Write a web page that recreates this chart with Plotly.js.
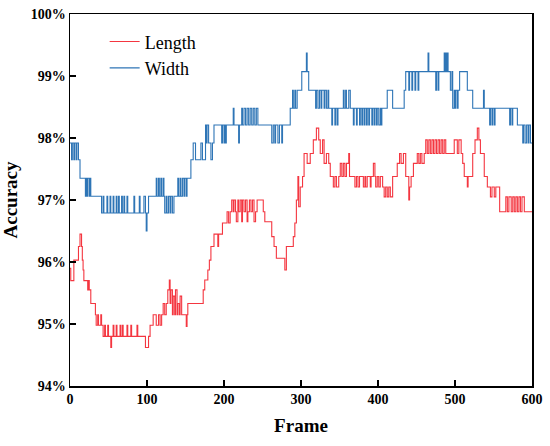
<!DOCTYPE html>
<html>
<head>
<meta charset="utf-8">
<script src="https://cdn.plot.ly/plotly-3.0.1.min.js"></script>
<style>html,body{margin:0;padding:0;background:#fff;}#chart{width:550px;height:446px;}</style>
</head>
<body>
<div id="chart"></div>
<script>
// Width series: frame at which a step starts, and its accuracy (%)
var widthFrames = [0,2,3,5,6,8,9,11,13,20,21,22,23,25,26,27,41,43,44,48,49,52,53,56,57,60,61,63,64,67,68,70,71,74,75,83,84,90,91,96,98,99,100,102,
  112,113,115,116,118,119,121,122,123,125,126,128,130,131,133,135,140,141,143,144,146,148,149,151,152,157,160,163,170,172,176,177,178,180,183,185,187,197,198,200,201,202,203,
  212,213,219,220,223,224,226,228,230,232,234,236,238,240,242,244,262,264,266,267,270,272,275,276,286,289,290,292,293,295,301,307,308,310,
  319,320,322,324,326,327,330,331,333,335,336,340,341,344,345,347,348,355,356,358,359,362,364,368,369,372,373,376,377,379,380,382,383,385,386,388,389,392,393,395,396,398,399,401,403,404,405,
  412,419,434,436,440,441,444,445,448,449,452,453,465,466,475,476,478,479,486,487,488,489,490,491,494,496,497,499,500,501,503,504,506,516,523,537,538,
  545,546,548,549,551,552,571,572,574,575,581,588,589,591,593,595,596,598,600];
var widthValues = [97.92,97.65,97.92,97.65,97.92,97.65,97.92,97.65,97.35,97.06,97.35,97.06,97.35,97.06,97.35,97.06,96.79,97.06,96.79,97.06,96.79,97.06,96.79,97.06,96.79,97.06,96.79,97.06,96.79,97.06,96.79,97.06,96.79,97.06,96.79,97.06,96.79,97.06,96.79,97.06,96.79,96.50,96.79,97.06,
  97.35,97.06,97.35,97.06,97.35,97.06,97.35,97.06,96.79,97.06,96.79,97.06,96.79,97.06,96.79,97.06,97.35,97.06,97.35,97.06,97.35,97.06,97.35,97.06,97.35,97.65,97.92,97.65,97.92,97.65,98.21,97.92,98.21,97.92,97.65,97.92,98.21,97.92,98.21,97.92,98.21,97.92,98.21,
  98.48,98.21,97.92,98.21,98.48,98.21,98.48,98.21,98.48,98.21,98.48,98.21,98.48,98.21,98.48,98.21,97.92,98.21,97.92,98.21,97.92,98.21,97.92,98.21,98.48,98.77,98.48,98.77,98.48,98.77,99.07,99.37,99.07,98.77,
  98.48,98.77,98.48,98.77,98.48,98.77,98.48,98.77,98.48,98.77,98.48,98.21,98.48,98.21,98.48,98.21,98.48,98.77,98.48,98.77,98.48,98.77,98.48,98.21,98.48,98.21,98.48,98.21,98.48,98.21,98.48,98.21,98.48,98.21,98.48,98.21,98.48,98.21,98.48,98.21,98.48,98.21,98.48,98.21,98.48,98.21,98.48,
  98.77,98.48,98.77,99.07,98.77,99.07,98.77,99.07,98.77,99.07,98.77,99.07,99.37,99.07,98.77,99.07,98.77,99.07,99.37,99.07,99.37,99.07,99.37,99.07,98.77,99.07,98.48,98.77,98.48,98.77,98.48,98.77,99.07,98.77,98.48,98.77,98.48,
  98.21,98.48,98.21,98.48,98.21,98.48,98.21,98.48,98.21,98.48,98.21,97.92,98.21,97.92,98.21,97.92,98.21,97.92,97.92];

// Length series
var lengthFrames = [0,1,5,11,13,15,16,17,18,23,24,25,27,33,34,36,37,40,41,43,45,46,49,50,53,54,56,57,60,61,65,66,68,69,74,75,79,80,87,88,98,
  102,104,108,112,115,117,119,121,123,125,127,129,130,131,133,134,136,137,139,140,142,143,145,151,152,153,160,173,175,179,181,183,187,192,193,198,
  204,206,208,210,212,213,215,216,218,219,221,223,224,226,228,230,231,233,235,237,239,241,243,245,251,253,262,265,268,279,281,290,292,294,296,
  297,299,302,304,308,312,316,320,323,325,328,330,333,336,338,342,344,346,349,351,353,355,357,359,362,363,370,372,374,376,381,383,384,386,390,391,394,396,397,399,
  401,403,406,408,410,412,414,416,419,425,428,430,433,436,440,441,443,446,451,453,455,457,460,462,464,466,468,470,472,474,476,478,480,482,484,486,488,499,
  503,505,508,510,512,516,517,523,526,529,531,533,534,538,542,546,548,551,553,558,566,568,570,573,575,577,579,581,583,585,587,590,600];
var lengthValues = [95.90,95.70,96.03,96.25,96.45,96.25,96.03,95.87,95.70,95.55,95.70,95.55,95.33,95.15,94.98,95.15,94.98,95.15,94.98,94.80,94.98,94.80,94.98,94.80,94.62,94.80,94.98,94.80,94.98,94.80,94.98,94.80,94.98,94.80,94.98,94.80,94.98,94.80,94.98,94.80,94.62,
  94.80,94.98,95.15,94.98,95.15,94.98,95.15,95.33,95.15,95.33,95.55,95.71,95.33,95.55,95.15,95.45,95.15,95.55,95.15,95.33,95.15,95.45,95.15,94.96,95.15,95.33,95.33,95.55,95.71,95.87,96.03,96.25,96.45,96.25,96.45,96.63,
  96.81,96.63,96.81,97.00,96.81,97.00,96.81,96.65,97.00,96.81,97.00,96.65,97.00,96.81,97.00,96.65,96.81,97.00,96.81,97.00,96.65,96.81,97.00,97.00,96.81,96.65,96.41,96.25,96.06,95.87,96.25,96.41,96.63,97.00,97.38,
  96.89,97.21,97.38,97.75,97.59,97.75,97.97,98.16,97.97,97.75,97.97,97.59,97.75,97.59,97.38,97.21,97.38,97.21,97.38,97.59,97.38,97.59,97.38,97.59,97.75,97.38,97.21,97.38,97.21,97.38,97.21,97.38,97.21,97.38,97.21,97.38,97.59,97.38,97.21,97.38,
  97.21,97.38,97.21,97.05,97.21,97.05,97.21,97.05,97.38,97.59,97.75,97.59,97.75,97.38,97.00,97.21,97.38,97.59,97.75,97.59,97.75,97.59,97.75,97.97,97.75,97.97,97.75,97.97,97.75,97.97,97.75,97.97,97.75,97.97,97.75,97.97,97.75,97.97,
  97.75,97.97,97.75,97.59,97.38,97.21,97.38,97.75,97.97,98.16,97.97,97.75,97.75,97.38,97.21,97.05,97.21,97.05,97.21,96.81,97.05,96.81,97.05,96.81,97.05,96.81,97.05,96.81,97.05,96.81,97.05,96.81,96.81];

var serif = 'Liberation Serif, Times New Roman, serif';

var traces = [
  {x: lengthFrames, y: lengthValues, name: 'Length', type: 'scatter', mode: 'lines',
   line: {color: '#f43640', width: 1.1, shape: 'hv'}},
  {x: widthFrames, y: widthValues, name: 'Width', type: 'scatter', mode: 'lines',
   line: {color: '#2e75b6', width: 1.1, shape: 'hv'}}
];

var layout = {
  width: 550, height: 446,
  margin: {l: 70, r: 18, t: 14, b: 60},
  paper_bgcolor: '#ffffff', plot_bgcolor: '#ffffff',
  font: {family: serif, color: '#000'},
  showlegend: true,
  legend: {x: 0.075, y: 0.975, xanchor: 'left', yanchor: 'top', bgcolor: 'rgba(0,0,0,0)',
    font: {family: serif, size: 18, color: '#000'}, tracegroupgap: 0},
  xaxis: {
    range: [0, 600], tickmode: 'linear', tick0: 0, dtick: 100,
    showgrid: false, zeroline: false, showline: true, linecolor: '#000', linewidth: 1.5, mirror: true,
    ticks: 'inside', ticklen: 6, tickwidth: 1.5, tickcolor: '#000',
    tickfont: {family: serif, size: 14, color: '#000', weight: 'bold'},
    title: {text: 'Frame', font: {family: serif, size: 19, color: '#000', weight: 'bold'}, standoff: 12}
  },
  yaxis: {
    range: [94, 100], tickmode: 'linear', tick0: 94, dtick: 1, ticksuffix: '%',
    showgrid: false, zeroline: false, showline: true, linecolor: '#000', linewidth: 1.5, mirror: true,
    ticks: 'inside', ticklen: 6, tickwidth: 1.5, tickcolor: '#000',
    tickfont: {family: serif, size: 14, color: '#000', weight: 'bold'},
    title: {text: 'Accuracy', font: {family: serif, size: 19, color: '#000', weight: 'bold'}, standoff: 8}
  }
};

Plotly.newPlot('chart', traces, layout, {displayModeBar: false, staticPlot: true});
</script>
</body>
</html>
